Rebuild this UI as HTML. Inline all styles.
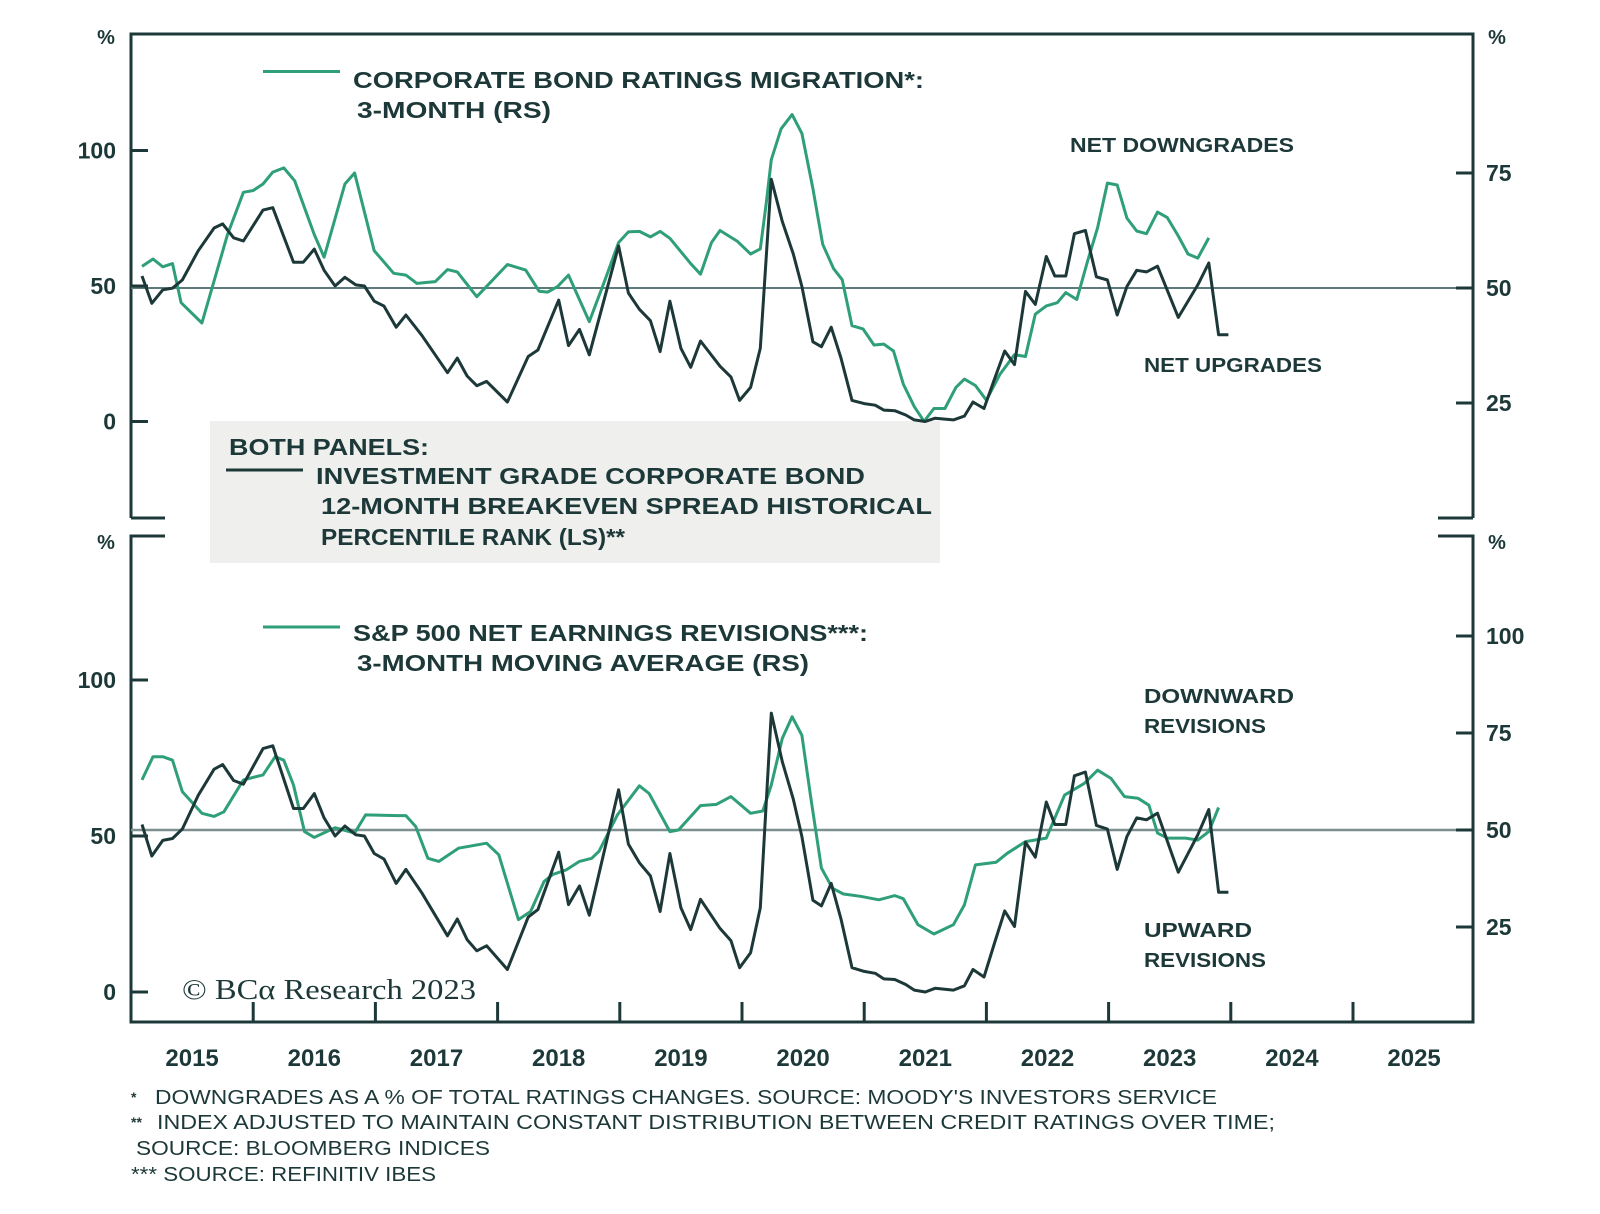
<!DOCTYPE html>
<html><head><meta charset="utf-8">
<style>
html,body{margin:0;padding:0;background:#fff;}
svg{display:block;}
text{font-family:"Liberation Sans",sans-serif;fill:#1d3838;font-weight:bold;}
</style></head>
<body>
<svg id="chart" width="1600" height="1214" viewBox="0 0 1600 1214" xmlns="http://www.w3.org/2000/svg">
  <g id="frame" stroke="#1d3838" stroke-width="3" fill="none">
    <path d="M131,518 V34 H1473 V518" />
    <path d="M131,518 H165 M1473,518 H1438" />
    <path d="M165,536 H131 V1022 H1473 V536 H1438" />
  </g>
  <rect x="210" y="421" width="730" height="142" fill="#efefed"/>
  <g id="plot"></g>
  <g id="labels">
    <text x="106" y="44" font-size="20" text-anchor="middle">%</text>
    <text x="1497" y="44" font-size="20" text-anchor="middle">%</text>
    <text x="106" y="549" font-size="20" text-anchor="middle">%</text>
    <text x="1497" y="549" font-size="20" text-anchor="middle">%</text>

    <line x1="263" y1="71.5" x2="340" y2="71.5" stroke="#2f9f78" stroke-width="3"/>
    <text x="353" y="88" font-size="23" textLength="571" lengthAdjust="spacingAndGlyphs">CORPORATE BOND RATINGS MIGRATION*:</text>
    <text x="357" y="118" font-size="23" textLength="194" lengthAdjust="spacingAndGlyphs">3-MONTH (RS)</text>
    <text x="1070" y="152" font-size="20" textLength="224" lengthAdjust="spacingAndGlyphs">NET DOWNGRADES</text>
    <text x="1144" y="372" font-size="20" textLength="178" lengthAdjust="spacingAndGlyphs">NET UPGRADES</text>

    <text x="229" y="455" font-size="23" textLength="200" lengthAdjust="spacingAndGlyphs">BOTH PANELS:</text>
    <line x1="226" y1="470" x2="303" y2="470" stroke="#1d3838" stroke-width="3"/>
    <text x="316" y="484" font-size="23" textLength="549" lengthAdjust="spacingAndGlyphs">INVESTMENT GRADE CORPORATE BOND</text>
    <text x="321" y="514" font-size="23" textLength="611" lengthAdjust="spacingAndGlyphs">12-MONTH BREAKEVEN SPREAD HISTORICAL</text>
    <text x="321" y="545" font-size="23" textLength="304" lengthAdjust="spacingAndGlyphs">PERCENTILE RANK (LS)**</text>

    <line x1="263" y1="627" x2="340" y2="627" stroke="#2f9f78" stroke-width="3"/>
    <text x="353" y="641" font-size="23" textLength="515" lengthAdjust="spacingAndGlyphs">S&amp;P 500 NET EARNINGS REVISIONS***:</text>
    <text x="357" y="671" font-size="23" textLength="452" lengthAdjust="spacingAndGlyphs">3-MONTH MOVING AVERAGE (RS)</text>
    <text x="1144" y="703" font-size="20" textLength="150" lengthAdjust="spacingAndGlyphs">DOWNWARD</text>
    <text x="1144" y="733" font-size="20" textLength="122" lengthAdjust="spacingAndGlyphs">REVISIONS</text>
    <text x="1144" y="937" font-size="20" textLength="108" lengthAdjust="spacingAndGlyphs">UPWARD</text>
    <text x="1144" y="967" font-size="20" textLength="122" lengthAdjust="spacingAndGlyphs">REVISIONS</text>

    <text x="182" y="999" font-size="28" style="font-family:'Liberation Serif',serif;font-weight:normal" textLength="294" lengthAdjust="spacingAndGlyphs">© BCα Research 2023</text>

    <text x="131" y="1102" font-size="14">*</text>
    <text x="155" y="1104" font-size="20" style="font-weight:normal" textLength="1062" lengthAdjust="spacingAndGlyphs">DOWNGRADES AS A % OF TOTAL RATINGS CHANGES. SOURCE: MOODY'S INVESTORS SERVICE</text>
    <text x="131" y="1127" font-size="14">**</text>
    <text x="157" y="1129" font-size="20" style="font-weight:normal" textLength="1118" lengthAdjust="spacingAndGlyphs">INDEX ADJUSTED TO MAINTAIN CONSTANT DISTRIBUTION BETWEEN CREDIT RATINGS OVER TIME;</text>
    <text x="136" y="1155" font-size="20" style="font-weight:normal" textLength="354" lengthAdjust="spacingAndGlyphs">SOURCE: BLOOMBERG INDICES</text>
    <text x="131" y="1181" font-size="20" style="font-weight:normal" textLength="305" lengthAdjust="spacingAndGlyphs">*** SOURCE: REFINITIV IBES</text>
  </g>
</svg>
<script>
// ---- data ----
const years = [2015,2016,2017,2018,2019,2020,2021,2022,2023,2024,2025];
const topLeftTicks = [0,50,100];
const topRightTicks = [25,50,75];
const botLeftTicks = [0,50,100];
const botRightTicks = [25,50,75,100];

const blackDates = [2015.09,2015.17,2015.26,2015.34,2015.42,2015.55,2015.68,2015.75,2015.84,2015.92,2016.08,2016.16,2016.33,2016.41,2016.50,2016.58,2016.67,2016.75,2016.84,2016.91,2016.99,2017.07,2017.17,2017.25,2017.38,2017.59,2017.67,2017.75,2017.83,2017.91,2018.08,2018.25,2018.33,2018.50,2018.58,2018.67,2018.75,2018.99,2019.07,2019.16,2019.25,2019.33,2019.41,2019.50,2019.58,2019.66,2019.82,2019.91,2019.98,2020.07,2020.15,2020.24,2020.33,2020.42,2020.49,2020.58,2020.65,2020.73,2020.81,2020.90,2021.00,2021.09,2021.16,2021.25,2021.34,2021.41,2021.50,2021.58,2021.73,2021.82,2021.89,2021.98,2022.07,2022.15,2022.23,2022.32,2022.40,2022.49,2022.56,2022.65,2022.72,2022.81,2022.90,2022.99,2023.07,2023.15,2023.23,2023.31,2023.40,2023.57,2023.73,2023.82,2023.90,2023.98];
const blackVals = [53.7,43.6,48.6,49.2,52.2,63,71.4,72.9,67.8,66.6,78,78.9,58.8,58.8,63.6,55.8,50,53.2,50.4,50,44.4,42.6,34.8,39.3,31.8,18,23.4,16.8,13.2,14.8,7.2,24,26.4,44.8,28,34,24.6,64.8,47.4,41.4,37.2,25.8,44.4,27,20,29.7,20.4,16.4,7.8,12.6,27,89.4,73.8,61.8,49.8,29.4,27.6,34.8,23.4,7.8,6.6,6,4.2,4,2.4,0.6,0,1.2,0.6,2,7.2,4.8,16.2,26,21,48,43.2,60.9,53.7,53.7,69.3,70.5,53.4,52.2,39.3,49.8,55.8,55.2,57.3,38.4,50.4,58.5,32,32];

const ratingsDates = [2015.09,2015.18,2015.26,2015.34,2015.41,2015.58,2015.79,2015.92,2016.00,2016.08,2016.16,2016.25,2016.34,2016.50,2016.58,2016.75,2016.83,2016.99,2017.15,2017.25,2017.34,2017.49,2017.59,2017.67,2017.83,2018.08,2018.23,2018.34,2018.41,2018.49,2018.58,2018.75,2018.88,2018.99,2019.07,2019.16,2019.25,2019.33,2019.41,2019.58,2019.66,2019.75,2019.82,2019.96,2020.07,2020.15,2020.20,2020.24,2020.32,2020.41,2020.49,2020.58,2020.66,2020.75,2020.82,2020.90,2020.99,2021.08,2021.16,2021.24,2021.32,2021.41,2021.49,2021.57,2021.66,2021.75,2021.82,2021.91,2022.00,2022.11,2022.23,2022.32,2022.40,2022.49,2022.58,2022.65,2022.74,2022.83,2022.91,2022.99,2023.07,2023.15,2023.23,2023.31,2023.40,2023.48,2023.57,2023.65,2023.73,2023.82];
const ratingsVals = [54.7,56.3,54.6,55.3,46.8,42.4,61.6,70.8,71.2,72.6,75.2,76.1,73.3,61.6,56.7,72.6,75,58.1,53.2,52.8,51,51.4,54,53.5,48.1,55.1,53.9,49.3,49.1,50.3,52.8,42.7,51.8,59.9,62.2,62.3,61.1,62.3,60.8,55.3,53,59.9,62.5,60.2,57.4,58.5,68.7,77.9,84.6,87.7,83.6,71.6,59.5,54.2,51.8,41.8,41.1,37.6,37.8,36.3,29.1,24.2,21,23.8,23.8,28.4,30.2,28.8,25.6,31.2,35.5,35.1,44.3,46.1,46.8,49,47.5,56,63.1,72.8,72.4,65.2,62.4,61.8,66.5,65.3,61.3,57.4,56.5,60.9];

const revDates = [2015.09,2015.18,2015.26,2015.34,2015.42,2015.58,2015.68,2015.76,2015.92,2016.08,2016.18,2016.25,2016.33,2016.42,2016.50,2016.67,2016.83,2016.92,2017.18,2017.25,2017.33,2017.43,2017.52,2017.68,2017.91,2018.01,2018.17,2018.27,2018.38,2018.45,2018.56,2018.67,2018.77,2018.83,2018.98,2019.16,2019.24,2019.41,2019.48,2019.66,2019.79,2019.91,2020.07,2020.17,2020.24,2020.33,2020.41,2020.49,2020.56,2020.65,2020.74,2020.83,2020.97,2021.12,2021.25,2021.32,2021.44,2021.57,2021.73,2021.82,2021.91,2022.08,2022.17,2022.32,2022.49,2022.64,2022.80,2022.91,2023.02,2023.13,2023.24,2023.33,2023.40,2023.48,2023.63,2023.73,2023.82,2023.90];
const revVals = [62.9,68.9,68.9,68,59.9,54.3,53.5,54.7,62.9,64.2,68.9,68,61.6,49.6,48.1,50.6,49.2,53.9,53.7,53.7,50.9,42.7,41.9,45.3,46.6,43.6,26.9,29,36.7,38.5,39.7,41.9,42.7,44.5,53.9,61.4,59.4,49.6,50,56.3,56.6,58.6,54.3,54.9,61.6,73.6,79.2,74.4,59,40.2,35,33.5,32.9,32,33.1,32.3,25.6,23.2,25.6,30.7,41,41.7,44,47,47.9,59,62,65.4,63.3,58.6,58.2,56.4,49.2,47.9,47.9,47.4,49.6,55.8];

// ---- scales ----
const X = t => 131 + (t - 2015) * 122.2;
const topL = v => 421.5 - v * 2.71;
const topR = v => 288 - (v - 50) * 4.6;
const botL = v => 992 - v * 3.12;
const botR = v => 830 - (v - 50) * 3.88;

const NS = 'http://www.w3.org/2000/svg';
const plot = document.getElementById('plot');
function mk(tag, attrs, parent) {
  const e = document.createElementNS(NS, tag);
  for (const k in attrs) e.setAttribute(k, attrs[k]);
  (parent || plot).appendChild(e);
  return e;
}
function pathOf(dates, vals, ys) {
  return dates.map((d, i) => (i ? 'L' : 'M') + X(d).toFixed(1) + ',' + ys(vals[i]).toFixed(1)).join(' ');
}

let ref = mk('line', {x1:131, x2:1473, y1:topR(50), y2:topR(50), stroke:'#5f7a7a', 'stroke-width':2});


ref = mk('line', {x1:131, x2:1473, y1:botR(50), y2:botR(50), stroke:'#7d8f8f', 'stroke-width':2.5});



function yTicks(vals, sc, side, prefix) {
  vals.forEach(v => {
    const y = sc(v);
    const t = side === 'L' ? mk('line', {x1:131, x2:148, y1:y, y2:y, stroke:'#1d3838', 'stroke-width':3})
                           : mk('line', {x1:1456, x2:1473, y1:y, y2:y, stroke:'#1d3838', 'stroke-width':3});
    
    
    const lab = mk('text', side === 'L' ? {x:116, y:y + 8, 'font-size':23, 'text-anchor':'end'}
                                         : {x:1486, y:y + 8, 'font-size':23});
    lab.textContent = v;
    
    
  });
}
yTicks(topLeftTicks, topL, 'L', 'top-left');
yTicks(topRightTicks, topR, 'R', 'top-right');
yTicks(botLeftTicks, botL, 'L', 'bottom-left');
yTicks(botRightTicks, botR, 'R', 'bottom-right');

years.forEach(yr => {
  if (yr > 2015) {
    const tk = mk('line', {x1:X(yr), x2:X(yr), y1:1002, y2:1022, stroke:'#1d3838', 'stroke-width':3});
    
    
  }
  const lab = mk('text', {x:X(yr + 0.5), y:1066, 'font-size':24, 'text-anchor':'middle'});
  lab.textContent = yr;
  
  
});

let s = mk('path', {d:pathOf(ratingsDates, ratingsVals, topR), fill:'none', stroke:'#2f9f78', 'stroke-width':3, 'stroke-linejoin':'round'});


s = mk('path', {d:pathOf(blackDates, blackVals, topL), fill:'none', stroke:'#1d3838', 'stroke-width':3, 'stroke-linejoin':'round'});


s = mk('path', {d:pathOf(revDates, revVals, botR), fill:'none', stroke:'#2f9f78', 'stroke-width':3, 'stroke-linejoin':'round'});


s = mk('path', {d:pathOf(blackDates, blackVals, botL), fill:'none', stroke:'#1d3838', 'stroke-width':3, 'stroke-linejoin':'round'});


</script>
</body></html>
